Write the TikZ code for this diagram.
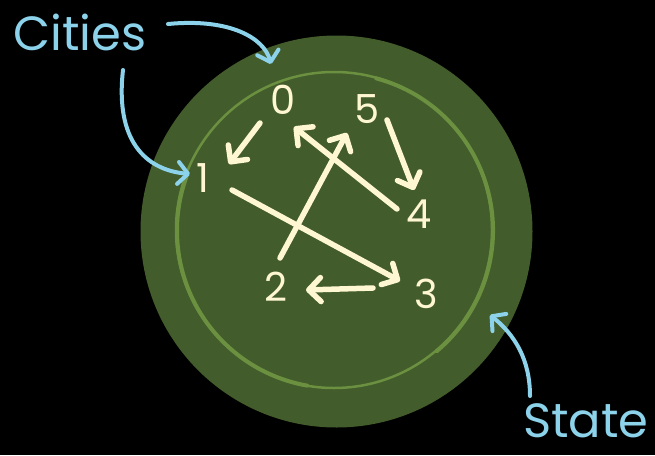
\documentclass[tikz,border=0pt]{standalone}
\usepackage{fontspec}
\setmainfont{Poppins}
\usetikzlibrary{arrows.meta}
\definecolor{bgdark}{HTML}{000000}
\definecolor{stategreen}{HTML}{435C2C}
\definecolor{ringgreen}{HTML}{6A9040}
\definecolor{cream}{HTML}{FFF6D2}
\definecolor{skyblue}{HTML}{8CD2EA}
\tikzset{
  city/.style={text=cream, font=\fontsize{40}{40}\selectfont, inner sep=0pt},
  label/.style={text=skyblue, font=\fontsize{48}{48}\selectfont, inner sep=0pt},
  edge/.style={draw=cream, line width=5.5pt, line cap=round, line join=round,
    -{Straight Barb[length=12pt, width=24pt, round]}},
  pointer/.style={draw=skyblue, line width=4pt, line cap=round, line join=round,
    -{Straight Barb[length=10pt, width=22pt, round]}},
  ring/.style={draw=ringgreen, line cap=round},
}
\begin{document}
\begin{tikzpicture}[x=1pt, y=-1pt]
\fill[bgdark] (0,0) rectangle (655,455);
\useasboundingbox (0,0) rectangle (655,455);
% state disc
\fill[stategreen] (336.5,231.5) circle[radius=196];
\draw[ring, line width=2.5pt] (334,230) circle[radius=158];
\draw[ring, line width=4pt] (335.5,230.5) ++(-75:157.5) arc[start angle=-75, end angle=50, radius=157.5];
\draw[ring, line width=4pt] (334.5,230.5) ++(100:157.5) arc[start angle=100, end angle=200, radius=157.5];
% cities
\node[city] (n0) at (283,100) {0};
\node[city] (n5) at (367,109) {5};
\node[city] (n1) at (203,178) {1};
\node[city] (n4) at (419,214) {4};
\node[city] (n2) at (276,287) {2};
\node[city] (n3) at (426,294) {3};
% edges
\coordinate (a0s) at (260,123); \coordinate (a0e) at (229,164);
\draw[edge] (a0s) -- (a0e);
\coordinate (a5s) at (387,120); \coordinate (a5e) at (414,190);
\draw[edge] (a5s) -- (a5e);
\coordinate (a4s) at (397,209); \coordinate (a4e) at (294,127);
\draw[edge] (a4s) -- (a4e);
\coordinate (a2s) at (280,258); \coordinate (a2e) at (347,133);
\draw[edge] (a2s) -- (a2e);
\coordinate (a1s) at (232,190); \coordinate (a1e) at (400,281);
\draw[edge] (a1s) -- (a1e);
\coordinate (a3s) at (373,288); \coordinate (a3e) at (306,290);
\draw[edge] (a3s) -- (a3e);
% labels
\node[label] (cities) at (80,32) {Cities};
\node[label] (state) at (586,421) {State};
\coordinate (p1s) at (168,24); \coordinate (p1e) at (271,64);
\draw[pointer] (p1s) .. controls (230,18) and (264,38) .. (p1e);
\coordinate (p2s) at (123,70); \coordinate (p2e) at (190,174);
\draw[pointer] (p2s) .. controls (115,140) and (145,170) .. (p2e);
\coordinate (p3s) at (530,396); \coordinate (p3e) at (490,315);
\draw[pointer] (p3s) .. controls (530,360) and (515,335) .. (p3e);
\end{tikzpicture}
\end{document}
